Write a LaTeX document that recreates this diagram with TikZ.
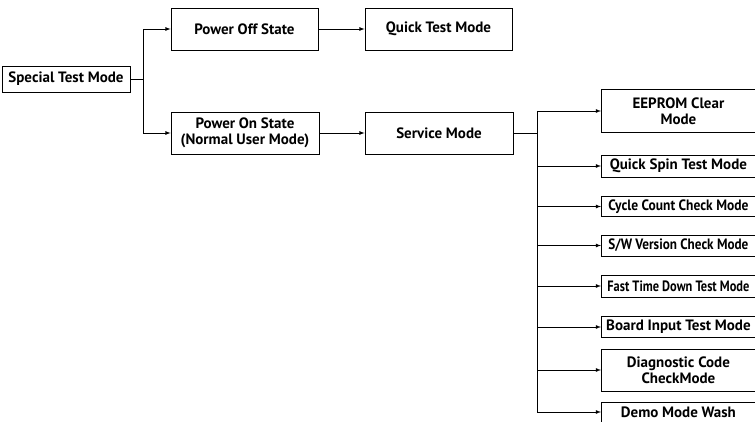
\documentclass[tikz,border=0pt]{standalone}
\usepackage{fontspec}
\usepackage{graphicx}
\setmainfont{PT Sans}
\newcommand{\squeeze}[2]{\resizebox{#1}{\height}{#2}}
\begin{document}
\begin{tikzpicture}[x=1pt,y=-1pt,
    modebox/.style={draw,line width=0.8pt,inner sep=0pt,align=center,font=\bfseries\fontsize{15}{16}\selectfont},
    smallbox/.style={modebox,minimum width=154pt,anchor=west},
    arr/.style={-latex,line width=0.8pt}]
        \useasboundingbox (0,0) rectangle (755,422);
        \node[modebox,minimum width=128pt,minimum height=26pt] (stm) at (66,79) {Special Test Mode};
        \node[modebox,minimum width=147pt,minimum height=42pt] (poff) at (244.5,29) {Power Off State};
        \node[modebox,minimum width=147pt,minimum height=42pt] (qtm) at (438.5,29) {Quick Test Mode};
        \node[modebox,minimum width=148pt,minimum height=42pt] (pon) at (245,133) {Power On State\\(Normal User Mode)};
        \node[modebox,minimum width=148pt,minimum height=42pt] (svc) at (439,133) {Service Mode};
        \node[smallbox,minimum height=43pt] (eeprom) at (601,111) {EEPROM Clear\\Mode};
        \node[smallbox,minimum height=22pt] (qspin) at (601,166) {Quick Spin Test Mode};
        \node[smallbox,minimum height=20pt] (cycle) at (601,206.5) {\squeeze{140pt}{Cycle Count Check Mode}};
        \node[smallbox,minimum height=21pt] (swver) at (601,245.5) {\squeeze{140pt}{S/W Version Check Mode}};
        \node[smallbox,minimum height=22pt] (fast) at (601,286) {\squeeze{142pt}{Fast Time Down Test Mode}};
        \node[smallbox,minimum height=21pt] (board) at (601,327) {Board Input Test Mode};
        \node[smallbox,minimum height=42pt] (diag) at (601,370) {Diagnostic Code\\CheckMode};
        \node[smallbox,minimum height=20pt] (demo) at (601,412) {Demo Mode Wash};
        % left branches
        \coordinate (stmbus) at (143,79);
        \draw[line width=0.8pt] (stm.east) -- (stmbus);
        \draw[arr] (stmbus) |- (poff.west);
        \draw[arr] (stmbus) |- (pon.west);
        \draw[arr] (poff.east) -- (qtm.west);
        \draw[arr] (pon.east) -- (svc.west);
        % service mode branches
        \coordinate (svcbus) at (537,133);
        \draw[line width=0.8pt] (svc.east) -- (svcbus);
        \draw[line width=0.8pt] (svcbus |- eeprom.west) -- (svcbus |- demo.west);
        \foreach \m in {eeprom,qspin,cycle,swver,fast,board,diag,demo}
            \draw[arr] (svcbus |- \m.west) -- (\m.west);
    \end{tikzpicture}
\end{document}
